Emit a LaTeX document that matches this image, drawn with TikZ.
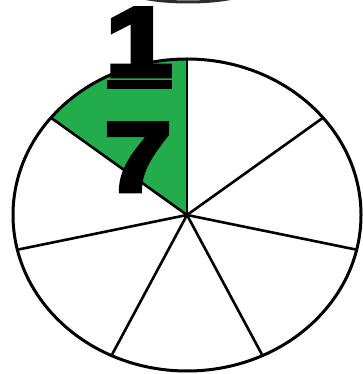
\documentclass[tikz,border=0pt]{standalone}
\usepackage{fontspec}
\usepackage{tikz}
\usetikzlibrary{calc}
\usepackage{xcolor}
\definecolor{slicegreen}{RGB}{35,172,75}
\definecolor{rimgrey}{RGB}{45,45,45}
\newfontfamily\digitfont[FakeBold=5]{Liberation Sans Bold}

\begin{document}
\begin{tikzpicture}[x=1pt,y=1pt,
    rim/.style={line width=3pt,black},
    spoke/.style={line width=2.6pt,black},
    digit/.style={inner sep=0pt,anchor=base,xscale=1.22,
      font=\digitfont\fontsize{98}{98}\selectfont}]
        \useasboundingbox (0,0) rectangle (362,374);
        % Pizza centre and rim points
        \coordinate (hub) at (187,159);
        \foreach \i in {0,...,6}
          \coordinate (p\i) at ($(hub)+({90+\i*360/7}:174 and 156)$);
        % Shaded seventh
        \begin{scope}
          \clip (hub) ellipse [x radius=174, y radius=156];
          \fill[slicegreen] (hub) -- ($(hub)!3!(p0)$) -- ($(hub)!3!(p1)$) -- cycle;
        \end{scope}
        % Spokes (7 equal slices)
        \foreach \i in {0,...,6}
          \draw[spoke] (hub) -- (p\i);
        % Rim
        \draw[rim] (hub) ellipse [x radius=174, y radius=156];
        % Cut-off shape at the top
        \draw[rimgrey,line width=3pt] (188,384) ++(195:60 and 12)
          arc[start angle=195,end angle=345,x radius=60,y radius=12];
        % Fraction 1/7
        \node[digit] (num) at (139,298) {1};
        \fill (107,285) rectangle (172,294);
        \node[digit] (den) at (138,183) {7};
\end{tikzpicture}
\end{document}
